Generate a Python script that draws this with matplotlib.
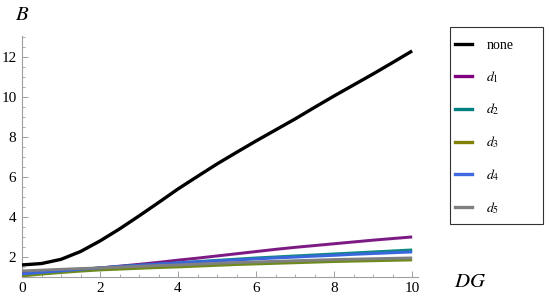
import matplotlib

matplotlib.use("Agg")
import matplotlib.pyplot as plt
from matplotlib.patches import Rectangle
from matplotlib.ticker import MultipleLocator

plt.rcParams["font.family"] = "serif"
plt.rcParams["font.serif"] = ["Liberation Serif", "DejaVu Serif"]
plt.rcParams["mathtext.fontset"] = "stix"

# ─── Data ────────────────────────────────────────────────────────────────────
dg = [0, 0.5, 1, 1.5, 2, 2.5, 3, 3.5, 4, 4.5, 5, 5.5, 6, 6.5, 7, 7.5, 8, 8.5, 9, 9.5, 10]
b_none = [1.6, 1.67, 1.88, 2.27, 2.8, 3.4, 4.05, 4.72, 5.4, 6.03, 6.65, 7.23, 7.8,
          8.35, 8.9, 9.48, 10.05, 10.6, 11.15, 11.72, 12.3]
b_d1 = [1.2, 1.24, 1.3, 1.37, 1.45, 1.54, 1.63, 1.73, 1.84, 1.94, 2.05, 2.16, 2.27,
        2.38, 2.48, 2.57, 2.66, 2.75, 2.84, 2.92, 3.0]
b_d2 = [1.1, 1.2, 1.28, 1.37, 1.45, 1.52, 1.58, 1.64, 1.7, 1.77, 1.83, 1.89, 1.95,
        2.0, 2.05, 2.1, 2.15, 2.2, 2.25, 2.3, 2.35]
b_d3 = [1.05, 1.14, 1.22, 1.29, 1.35, 1.39, 1.43, 1.47, 1.5, 1.54, 1.58, 1.62, 1.65,
        1.68, 1.71, 1.74, 1.77, 1.79, 1.81, 1.83, 1.85]
b_d4 = [1.15, 1.23, 1.3, 1.38, 1.45, 1.52, 1.58, 1.64, 1.7, 1.75, 1.8, 1.85, 1.9,
        1.95, 1.99, 2.04, 2.08, 2.13, 2.17, 2.21, 2.25]
b_d5 = [1.3, 1.34, 1.38, 1.42, 1.45, 1.49, 1.53, 1.57, 1.6, 1.64, 1.68, 1.72, 1.75,
        1.78, 1.81, 1.84, 1.87, 1.89, 1.91, 1.93, 1.95]

labels = ["none", "$d_1$", "$d_2$", "$d_3$", "$d_4$", "$d_5$"]
series = [b_none, b_d1, b_d2, b_d3, b_d4, b_d5]
colors = ["#000000", "#7a1a82", "#0f8a80", "#6e8a1a", "#3a66dd", "#808080"]
legend_colors = ["#000000", "#800080", "#008080", "#808000", "#4169e1", "#808080"]

GRAY = "#a0a0a0"

fig = plt.figure(figsize=(5.5, 3.02), dpi=100)
ax = fig.add_axes([0.04, 0.083, 0.72, 0.798])

# faint uncertainty bands around d1 and d2/d4
ax.fill_between(dg[6:], [v - 0.07 for v in b_d1[6:]], [v + 0.09 for v in b_d1[6:]],
                color="#fde6fb", lw=0, zorder=1)
ax.fill_between(dg[6:], [v - 0.05 for v in b_d4[6:]], [v + 0.08 for v in b_d2[6:]],
                color="#ddfbfb", lw=0, zorder=1)

order = [3, 5, 4, 2, 1, 0]
for i in order:
    ax.plot(dg, series[i], color=colors[i], lw=2.4 if i == 0 else 2.1,
            solid_capstyle="butt", zorder=3 + i)

ax.set_xlim(0, 10.15)
ax.set_ylim(1.0, 13.05)
ax.xaxis.set_major_locator(MultipleLocator(2))
ax.xaxis.set_minor_locator(MultipleLocator(0.5))
ax.yaxis.set_minor_locator(MultipleLocator(0.5))
ax.set_yticks([2, 4, 6, 8, 10, 12])

for side in ("top", "right"):
    ax.spines[side].set_visible(False)
for side in ("left", "bottom"):
    ax.spines[side].set_color(GRAY)
    ax.spines[side].set_linewidth(0.8)

ax.tick_params(which="major", direction="in", length=4, width=0.7, color=GRAY,
               labelsize=11, pad=4)
ax.tick_params(which="minor", direction="in", length=2, width=0.6, color=GRAY)

fig.text(0.04, 0.95, "$B$", fontsize=15, ha="center", va="center")
fig.text(0.855, 0.063, "$DG$", fontsize=15, ha="center", va="center")

# legend frame drawn separately (Mathematica-style wide box)
fig.add_artist(Rectangle((450 / 550, 1 - 224 / 302), 93 / 550, 197 / 302,
                         transform=fig.transFigure, fill=False,
                         edgecolor="#333333", lw=0.8))
handles = [plt.Line2D([], [], color=c, lw=2.4) for c in legend_colors]
fig.legend(handles, labels, loc="upper left", bbox_to_anchor=(455 / 550, 1 - 39 / 302),
           fontsize=10, labelspacing=1.22, handlelength=1.25,
           handletextpad=1.0, borderpad=0, borderaxespad=0, frameon=False)

fig.savefig("out.png", dpi=100)
